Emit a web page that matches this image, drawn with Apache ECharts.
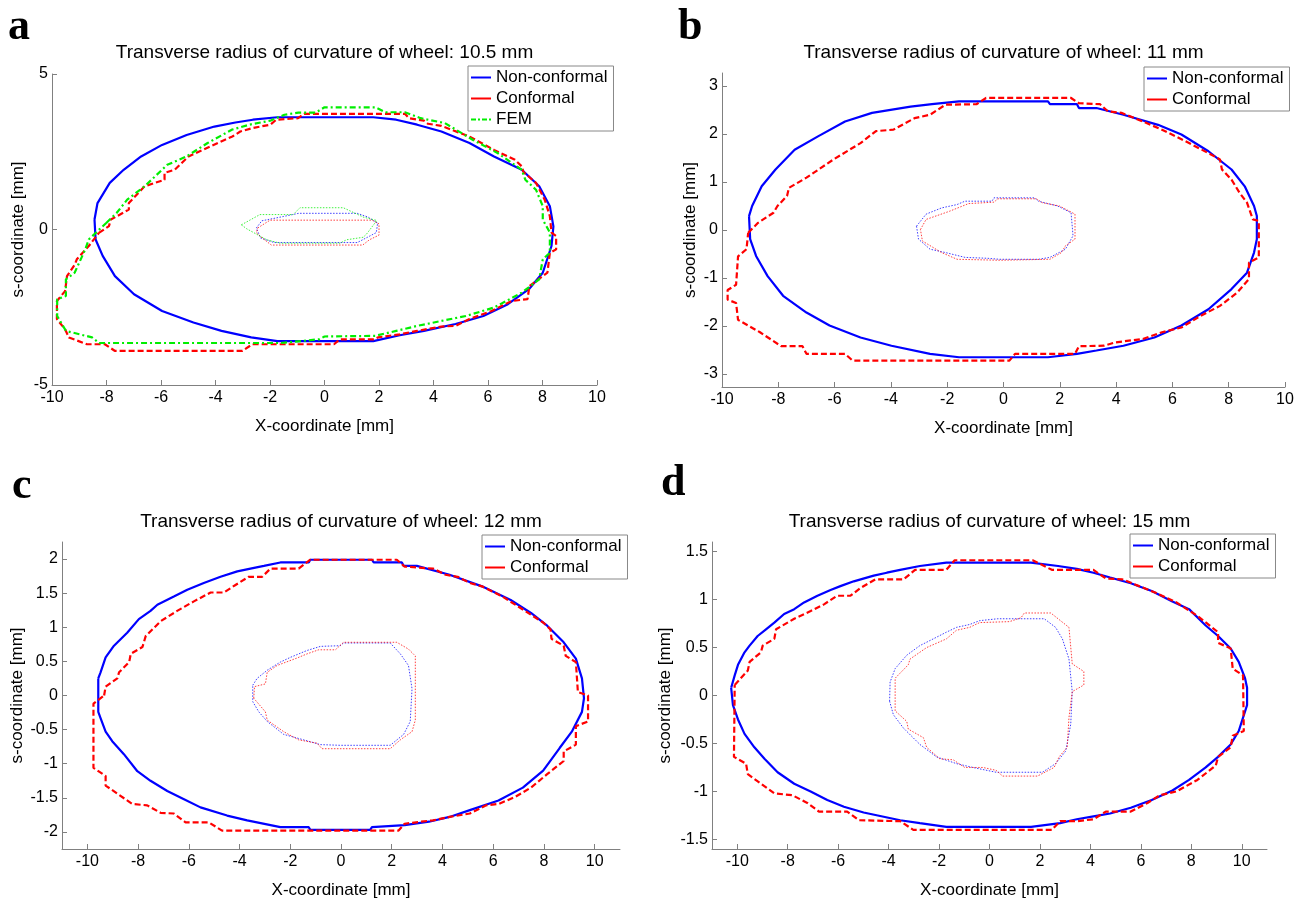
<!DOCTYPE html>
<html>
<head>
<meta charset="utf-8">
<script src="https://cdn.jsdelivr.net/npm/echarts@6/dist/echarts.min.js"></script>
<style>
html,body{margin:0;padding:0;background:#fff;}
#chart{width:1299px;height:900px;}
</style>
</head>
<body>
<div id="chart"></div>
<script>
// ---------- tick labels ----------
var xTicks = [-10,-8,-6,-4,-2,0,2,4,6,8,10];
var yTicksA = [-5,0,5];
var yTicksB = [-3,-2,-1,0,1,2,3];
var yTicksC = [-2,-1.5,-1,-0.5,0,0.5,1,1.5,2];
var yTicksD = [-1.5,-1,-0.5,0,0.5,1,1.5];

// ---------- titles ----------
var titles = [
  'Transverse radius of curvature of wheel: 10.5 mm',
  'Transverse radius of curvature of wheel: 11 mm',
  'Transverse radius of curvature of wheel: 12 mm',
  'Transverse radius of curvature of wheel: 15 mm'
];
var panelLetters = ['a','b','c','d'];

// ---------- panel a (10.5 mm) ----------
var aNonConf = [[-8.44,0.32],[-8.33,0.85],[-7.88,1.5],[-7.37,1.92],[-6.73,2.35],[-5.96,2.72],[-5.06,3.04],[-4.04,3.31],[-3.27,3.44],[-2.63,3.53],[-1.73,3.61],[1.79,3.61],[2.63,3.53],[3.4,3.37],[4.29,3.15],[5.32,2.78],[6.22,2.35],[7.24,1.92],[7.88,1.39],[8.27,0.75],[8.4,0.1],[8.33,-0.53],[8.01,-1.39],[7.5,-1.92],[6.73,-2.4],[5.83,-2.78],[4.81,-3.04],[3.65,-3.26],[2.76,-3.4],[1.79,-3.59],[-1.73,-3.59],[-2.69,-3.47],[-3.78,-3.26],[-4.81,-2.99],[-5.96,-2.62],[-6.99,-2.08],[-7.69,-1.5],[-8.14,-0.85],[-8.4,-0.32]];
var aConf = [[-8.28,-0.11],[-7.91,0.11],[-7.84,0.32],[-7.18,0.64],[-7.18,0.85],[-6.6,1.39],[-5.87,1.6],[-5.87,1.82],[-5.5,1.92],[-4.99,2.35],[-3.67,2.88],[-3.38,2.99],[-3.09,3.15],[-2.65,3.26],[-1.99,3.37],[-1.77,3.53],[-0.97,3.58],[-0.75,3.72],[2.95,3.72],[3.1,3.58],[3.65,3.5],[3.8,3.4],[4.29,3.33],[5.32,2.99],[6.22,2.56],[6.99,2.24],[7.24,2.03],[7.3,1.85],[7.76,1.5],[8.08,0.96],[8.27,0.43],[8.33,-0.1],[8.5,-0.21],[8.5,-0.64],[8.27,-0.75],[8.18,-1.39],[7.52,-1.82],[7.45,-2.24],[6.86,-2.3],[6.13,-2.62],[5.32,-2.88],[4.81,-3.1],[4.29,-3.12],[3.4,-3.26],[2.76,-3.37],[1.96,-3.47],[1.81,-3.53],[0.57,-3.53],[0.35,-3.69],[-2.65,-3.69],[-3.01,-3.9],[-7.7,-3.9],[-8.06,-3.69],[-8.72,-3.69],[-9.38,-3.47],[-9.52,-3.21],[-9.82,-2.88],[-9.82,-2.3],[-9.52,-1.98],[-9.45,-1.5],[-9.16,-1.12],[-9.09,-0.96],[-8.65,-0.53]];
var aFEM = [[-8.01,0.21],[-7.63,0.53],[-7.24,0.96],[-6.6,1.39],[-5.77,2.08],[-5.06,2.35],[-4.29,2.78],[-3.4,3.21],[-2.76,3.37],[-1.99,3.5],[-1.47,3.69],[-0.96,3.76],[-0.32,3.76],[0,3.93],[1.86,3.93],[2.24,3.77],[2.95,3.77],[3.53,3.58],[4.42,3.42],[5.45,2.88],[6.35,2.46],[7.24,1.92],[7.37,1.6],[7.76,1.28],[8.01,0.75],[8.01,0.32],[8.27,-0.1],[8.27,-0.75],[8.01,-0.96],[7.88,-1.6],[7.24,-2.03],[6.22,-2.51],[5.19,-2.78],[4.29,-2.94],[3.4,-3.1],[2.63,-3.26],[1.86,-3.42],[0,-3.44],[-0.19,-3.53],[-1.6,-3.65],[-8.27,-3.65],[-8.53,-3.47],[-9.49,-3.26],[-9.81,-2.78],[-9.81,-2.24],[-9.49,-2.14],[-9.49,-1.6],[-9.17,-1.39],[-8.78,-0.64],[-8.65,-0.32]];
var aNonConfStick = [[-2.5,0.05],[-2.3,0.28],[-1.5,0.42],[-0.95,0.52],[1.2,0.52],[1.6,0.4],[1.95,0.2],[1.9,-0.1],[1.4,-0.33],[1.2,-0.42],[-1.85,-0.42],[-2.35,-0.27]];
var aConfStick = [[-2.45,0.05],[-2.0,0.3],[1.75,0.3],[2.0,0.18],[2.0,-0.18],[1.65,-0.33],[1.4,-0.5],[-1.95,-0.5],[-2.25,-0.3],[-2.5,-0.1]];
var aFEMStick = [[-3.05,0.15],[-2.37,0.48],[-1.15,0.48],[-0.9,0.7],[0.69,0.7],[1.42,0.4],[1.92,0.29],[1.55,-0.14],[1.42,-0.25],[0.81,-0.33],[0.57,-0.44],[-1.63,-0.44],[-2.12,-0.33],[-2.85,0.02]];

// ---------- panel b (11 mm) ----------
var bNonConf = [[-9.04,0.29],[-8.93,0.5],[-8.59,0.91],[-8.1,1.26],[-7.42,1.67],[-6.59,1.95],[-5.63,2.26],[-4.67,2.44],[-3.3,2.57],[-2.54,2.62],[-1.58,2.68],[1.58,2.68],[1.65,2.62],[2.61,2.62],[2.68,2.54],[3.3,2.54],[4.26,2.4],[5.49,2.19],[6.32,1.99],[7.28,1.64],[8.1,1.26],[8.57,0.91],[8.9,0.5],[9.0,0.29],[9.0,-0.19],[8.9,-0.47],[8.65,-0.89],[8.1,-1.23],[7.28,-1.65],[6.32,-1.99],[5.36,-2.24],[4.26,-2.41],[3.3,-2.51],[2.61,-2.58],[1.58,-2.65],[-1.58,-2.65],[-2.61,-2.58],[-3.98,-2.41],[-5.08,-2.24],[-6.18,-1.99],[-7.0,-1.72],[-7.83,-1.37],[-8.38,-0.96],[-8.79,-0.54],[-9.0,-0.19]];
var bConf = [[-9.07,-0.06],[-8.72,0.15],[-8.17,0.36],[-8.03,0.5],[-7.69,0.71],[-7.62,0.88],[-7.0,1.09],[-6.04,1.47],[-5.08,1.81],[-4.53,2.06],[-3.91,2.09],[-3.16,2.33],[-2.61,2.4],[-2.06,2.61],[-0.96,2.62],[-0.62,2.75],[2.4,2.75],[2.68,2.64],[3.43,2.62],[3.71,2.47],[4.19,2.44],[4.95,2.26],[5.63,2.09],[6.46,1.85],[7.28,1.6],[7.69,1.47],[7.76,1.26],[8.1,1.05],[8.38,0.78],[8.65,0.57],[8.86,0.22],[9.07,0.19],[9.07,-0.57],[8.72,-0.68],[8.72,-1.02],[8.31,-1.3],[7.69,-1.58],[7.0,-1.79],[6.32,-2.03],[5.63,-2.13],[4.95,-2.27],[3.98,-2.34],[3.57,-2.41],[2.68,-2.42],[2.54,-2.58],[0.41,-2.58],[0.21,-2.72],[-5.36,-2.72],[-5.63,-2.58],[-7.0,-2.58],[-7.14,-2.42],[-7.9,-2.42],[-8.65,-2.13],[-9.43,-1.87],[-9.5,-1.52],[-9.8,-1.45],[-9.8,-1.25],[-9.5,-1.14],[-9.43,-0.55],[-9.13,-0.4]];
var bNonConfStick = [[-3.09,0.08],[-2.75,0.33],[-2.2,0.46],[-1.65,0.53],[-1.37,0.6],[-0.41,0.6],[-0.34,0.67],[1.1,0.67],[1.24,0.6],[1.92,0.5],[2.4,0.36],[2.47,-0.12],[2.2,-0.4],[1.65,-0.57],[1.24,-0.61],[-0.14,-0.61],[-0.55,-0.59],[-1.37,-0.57],[-2.06,-0.47],[-2.61,-0.4],[-3.02,-0.19]];
var bConfStick = [[-2.95,0.01],[-2.75,0.22],[-1.92,0.39],[-1.24,0.55],[-0.34,0.58],[-0.2,0.65],[1.17,0.65],[1.37,0.57],[1.99,0.5],[2.54,0.33],[2.54,-0.19],[2.2,-0.33],[2.06,-0.47],[1.65,-0.61],[-0.14,-0.63],[-1.65,-0.61],[-2.2,-0.47],[-2.88,-0.23]];

// ---------- panel c (12 mm) ----------
var cNonConf = [[-9.57,0.25],[-9.48,0.34],[-9.28,0.56],[-8.95,0.73],[-8.43,0.92],[-7.97,1.12],[-7.51,1.24],[-7.24,1.33],[-6.59,1.45],[-6.06,1.55],[-5.41,1.65],[-4.75,1.74],[-4.09,1.82],[-3.57,1.86],[-3.04,1.9],[-2.39,1.95],[-1.27,1.95],[-1.21,1.99],[1.22,1.99],[1.29,1.95],[2.4,1.95],[2.47,1.9],[2.99,1.9],[4.28,1.77],[5.56,1.6],[6.69,1.4],[7.49,1.21],[8.14,1.02],[8.78,0.78],[9.26,0.54],[9.5,0.25],[9.58,-0.04],[9.5,-0.24],[9.1,-0.53],[8.62,-0.77],[7.97,-1.1],[7.17,-1.35],[6.21,-1.54],[5.08,-1.68],[4.28,-1.78],[3.47,-1.85],[2.51,-1.9],[1.22,-1.93],[1.15,-1.97],[-1.21,-1.97],[-1.27,-1.93],[-2.39,-1.93],[-3.7,-1.83],[-4.49,-1.76],[-5.54,-1.64],[-6.19,-1.52],[-6.85,-1.4],[-7.51,-1.25],[-8.03,-1.11],[-8.56,-0.86],[-9.02,-0.67],[-9.28,-0.53],[-9.48,-0.33],[-9.57,-0.24]];
var cConf = [[-9.34,0.0],[-9.28,0.13],[-8.82,0.25],[-8.75,0.34],[-8.35,0.49],[-8.29,0.61],[-7.83,0.71],[-7.7,0.87],[-7.11,1.09],[-6.46,1.24],[-5.8,1.38],[-5.14,1.51],[-4.62,1.51],[-4.16,1.62],[-3.64,1.74],[-3.11,1.74],[-2.78,1.86],[-1.67,1.86],[-1.21,1.99],[2.2,1.99],[2.51,1.89],[3.63,1.86],[4.12,1.77],[4.6,1.74],[5.08,1.65],[5.56,1.6],[6.37,1.45],[7.17,1.26],[7.97,1.07],[8.26,0.97],[8.3,0.83],[8.78,0.73],[8.86,0.58],[9.26,0.49],[9.34,0.05],[9.74,0.0],[9.74,-0.38],[9.26,-0.45],[9.26,-0.72],[8.78,-0.82],[8.78,-0.96],[8.14,-1.15],[7.49,-1.35],[6.85,-1.49],[6.21,-1.59],[5.72,-1.61],[5.08,-1.73],[4.28,-1.78],[3.63,-1.83],[3.15,-1.85],[2.51,-1.88],[2.27,-1.98],[-4.69,-1.98],[-5.21,-1.86],[-6.13,-1.86],[-6.59,-1.73],[-7.11,-1.72],[-7.64,-1.61],[-8.23,-1.59],[-9.28,-1.32],[-9.28,-1.18],[-9.76,-1.06],[-9.76,-0.12]];
var cNonConfStick = [[-3.48,0.15],[-3.31,0.25],[-2.91,0.37],[-2.39,0.49],[-1.99,0.56],[-1.34,0.66],[-0.81,0.72],[-0.03,0.73],[0.1,0.77],[1.94,0.77],[2.34,0.61],[2.66,0.44],[2.8,0.1],[2.73,-0.38],[2.47,-0.57],[1.94,-0.73],[-0.03,-0.73],[-0.81,-0.72],[-1.47,-0.65],[-2.26,-0.57],[-2.91,-0.38],[-3.24,-0.24],[-3.48,-0.09]];
var cConfStick = [[-3.44,-0.04],[-3.41,0.13],[-2.98,0.17],[-2.91,0.34],[-2.52,0.44],[-1.73,0.55],[-1.34,0.61],[-0.88,0.67],[-0.22,0.67],[0.1,0.78],[2.2,0.78],[2.66,0.68],[2.93,0.58],[2.93,-0.36],[2.8,-0.53],[2.34,-0.65],[1.94,-0.78],[-0.75,-0.78],[-0.94,-0.7],[-1.67,-0.65],[-2.26,-0.53],[-2.91,-0.36],[-2.98,-0.24]];

// ---------- panel d (15 mm) ----------
var dNonConf = [[-10.24,0.08],[-10.1,0.21],[-9.97,0.32],[-9.71,0.45],[-9.51,0.52],[-9.19,0.62],[-8.86,0.69],[-8.53,0.76],[-8.14,0.85],[-7.74,0.9],[-7.35,0.97],[-6.82,1.04],[-6.3,1.1],[-5.91,1.14],[-5.38,1.19],[-4.59,1.25],[-4.07,1.28],[-3.54,1.31],[-2.76,1.35],[-1.71,1.385],[1.64,1.385],[2.72,1.35],[3.46,1.32],[4.12,1.28],[4.78,1.23],[5.6,1.17],[6.43,1.09],[7.25,0.98],[7.91,0.9],[8.57,0.73],[9.06,0.62],[9.56,0.49],[9.88,0.35],[10.13,0.18],[10.21,0.08],[10.21,-0.1],[10.05,-0.23],[9.88,-0.37],[9.56,-0.51],[9.06,-0.64],[8.57,-0.75],[7.91,-0.88],[7.25,-0.99],[6.43,-1.09],[5.6,-1.17],[4.78,-1.23],[4.12,-1.26],[3.46,-1.29],[2.8,-1.33],[1.65,-1.37],[-1.71,-1.37],[-2.76,-1.33],[-3.54,-1.3],[-4.99,-1.22],[-5.77,-1.16],[-6.43,-1.09],[-7.09,-1.0],[-7.74,-0.92],[-8.4,-0.8],[-8.92,-0.66],[-9.32,-0.54],[-9.71,-0.4],[-9.97,-0.25],[-10.17,-0.1]];
var dConf = [[-10.1,0.11],[-9.58,0.26],[-9.51,0.35],[-9.06,0.45],[-8.99,0.52],[-8.53,0.59],[-8.46,0.69],[-7.74,0.8],[-7.09,0.88],[-6.56,0.95],[-6.04,1.04],[-5.51,1.04],[-5.12,1.12],[-4.53,1.21],[-3.41,1.21],[-2.95,1.31],[-1.71,1.31],[-1.38,1.41],[1.71,1.41],[2.47,1.31],[4.12,1.31],[4.61,1.22],[5.27,1.21],[5.93,1.14],[6.59,1.07],[7.41,0.97],[8.24,0.83],[9.06,0.66],[9.06,0.55],[9.56,0.49],[9.64,0.28],[10.05,0.21],[10.08,-0.37],[9.64,-0.42],[9.56,-0.54],[9.06,-0.64],[8.97,-0.73],[8.24,-0.88],[7.41,-1.0],[6.75,-1.04],[6.26,-1.12],[5.6,-1.21],[4.61,-1.21],[4.12,-1.29],[3.46,-1.31],[2.8,-1.31],[2.47,-1.4],[-3.02,-1.4],[-3.54,-1.31],[-5.18,-1.3],[-5.64,-1.21],[-6.76,-1.21],[-7.22,-1.12],[-7.81,-1.04],[-8.53,-1.02],[-9.58,-0.82],[-9.65,-0.71],[-10.13,-0.64]];
var dNonConfStick = [[-3.96,-0.06],[-3.94,0.14],[-3.74,0.28],[-3.28,0.42],[-2.76,0.52],[-2.23,0.59],[-1.71,0.66],[-1.31,0.71],[-0.79,0.74],[-0.39,0.78],[0.33,0.8],[2.17,0.8],[2.62,0.71],[2.89,0.59],[3.15,0.38],[3.28,0.04],[3.22,-0.3],[3.02,-0.58],[2.62,-0.71],[2.1,-0.8],[0.26,-0.8],[-0.66,-0.75],[-1.31,-0.71],[-2.1,-0.64],[-2.76,-0.51],[-3.41,-0.34],[-3.81,-0.2]];
var dConfStick = [[-3.74,-0.16],[-3.74,0.18],[-3.22,0.32],[-3.15,0.38],[-2.49,0.5],[-1.71,0.59],[-1.31,0.68],[-0.79,0.71],[-0.39,0.76],[0.79,0.77],[1.25,0.81],[1.38,0.86],[2.43,0.86],[3.15,0.71],[3.28,0.33],[3.74,0.25],[3.74,0.11],[3.28,0.04],[3.15,-0.23],[3.08,-0.54],[2.76,-0.64],[2.56,-0.75],[1.9,-0.84],[0.52,-0.84],[0.26,-0.78],[-0.26,-0.75],[-0.98,-0.75],[-1.44,-0.67],[-1.97,-0.66],[-2.49,-0.54],[-2.62,-0.44],[-3.22,-0.35],[-3.28,-0.27]];

// ---------- build chart ----------
var FONT = 'Liberation Sans, Arial, sans-serif';
var AXIS_COLOR = '#808080';
var BLUE = '#0000ff', RED = '#ff0000', GREEN = '#00ee00';

function closed(arr){ return arr.concat([arr[0]]); }

var panels = [
  {grid:{left:52, top:74, width:545, height:311}, x:[-10,10], y:[-5,5], yTicks:yTicksA, yNameGap:25, titleY:53,
   legend:{left:468, top:66}, legendNames:['Non-conformal','Conformal','FEM'],
   outer:[['Non-conformal',aNonConf,BLUE],['Conformal',aConf,RED],['FEM',aFEM,GREEN]],
   inner:[[aNonConfStick,BLUE],[aConfStick,RED],[aFEMStick,GREEN]]},
  {grid:{left:722, top:73, width:563, height:314}, x:[-10,10], y:[-3.27,3.27], yTicks:yTicksB, yNameGap:23, titleY:53,
   legend:{left:1144, top:67}, legendNames:['Non-conformal','Conformal'],
   outer:[['Non-conformal',bNonConf,BLUE],['Conformal',bConf,RED]],
   inner:[[bNonConfStick,BLUE],[bConfStick,RED]]},
  {grid:{left:62, top:542, width:558, height:311}, x:[-11,11], y:[-2.25,2.25], yTicks:yTicksC, yNameGap:36, titleY:522,
   legend:{left:482, top:535}, legendNames:['Non-conformal','Conformal'],
   outer:[['Non-conformal',cNonConf,BLUE],['Conformal',cConf,RED]],
   inner:[[cNonConfStick,BLUE],[cConfStick,RED]]},
  {grid:{left:712, top:542, width:555, height:311}, x:[-11,11], y:[-1.6,1.6], yTicks:yTicksD, yNameGap:38, titleY:522,
   legend:{left:1130, top:534}, legendNames:['Non-conformal','Conformal'],
   outer:[['Non-conformal',dNonConf,BLUE],['Conformal',dConf,RED]],
   inner:[[dNonConfStick,BLUE],[dConfStick,RED]]}
];

var grids=[], xAxes=[], yAxes=[], series=[], legends=[], graphics=[];
var lineTypes = {'Non-conformal':'solid', 'Conformal':[6,3], 'FEM':[6,3,2,3]};
var legendIcons = {
  'Non-conformal':'rect',
  'Conformal':'rect',
  'FEM':'path://M0,0h5v2h-5z M7,0h2v2h-2z M11,0h5v2h-5z M18,0h2v2h-2z'
};

panels.forEach(function(p, i){
  grids.push(p.grid);
  xAxes.push({
    type:'value', gridIndex:i, min:p.x[0], max:p.x[1],
    name:'X-coordinate [mm]', nameLocation:'middle', nameGap:33,
    nameTextStyle:{fontSize:17, color:'#000', fontFamily:FONT},
    axisLine:{show:true, onZero:false, lineStyle:{color:AXIS_COLOR, width:1}},
    axisTick:{show:true, inside:true, length:5, customValues:xTicks, lineStyle:{color:AXIS_COLOR}},
    axisLabel:{customValues:xTicks, fontSize:16, color:'#000', fontFamily:FONT, margin:5},
    splitLine:{show:false}
  });
  yAxes.push({
    type:'value', gridIndex:i, min:p.y[0], max:p.y[1],
    name:'s-coordinate [mm]', nameLocation:'middle', nameGap:p.yNameGap,
    nameTextStyle:{fontSize:17, color:'#000', fontFamily:FONT},
    axisLine:{show:true, onZero:false, lineStyle:{color:AXIS_COLOR, width:1}},
    axisTick:{show:true, inside:true, length:5, customValues:p.yTicks, lineStyle:{color:AXIS_COLOR}},
    axisLabel:{customValues:p.yTicks, fontSize:16, color:'#000', fontFamily:FONT, margin:4},
    splitLine:{show:false}
  });
  p.inner.forEach(function(s){
    series.push({
      type:'line', name:'stick region', xAxisIndex:i, yAxisIndex:i,
      data:closed(s[0]), symbol:'none', showSymbol:false, silent:true,
      lineStyle:{color:s[1], width:1, type:[1.5,1.5], opacity:0.75}, z:2
    });
  });
  p.outer.forEach(function(s){
    series.push({
      type:'line', name:s[0], xAxisIndex:i, yAxisIndex:i,
      data:closed(s[1]), symbol:'none', showSymbol:false, silent:true,
      color:s[2],
      lineStyle:{color:s[2], width:2.2, type:lineTypes[s[0]]}, z:3
    });
  });
  legends.push({
    left:p.legend.left, top:p.legend.top, orient:'vertical', selectedMode:false,
    backgroundColor:'#fff', borderColor:'#888', borderWidth:1, borderRadius:0,
    padding:[3,6,3,3], itemGap:4, itemWidth:20, itemHeight:2,
    textStyle:{fontSize:17, color:'#000', fontFamily:FONT, lineHeight:17},
    data:p.legendNames.map(function(n){ return {name:n, icon:legendIcons[n]}; })
  });
  var cx = p.grid.left + p.grid.width/2;
  graphics.push({
    type:'text', x:cx, y:p.titleY,
    style:{text:titles[i], fontSize:19, fill:'#000', fontFamily:FONT, align:'center', verticalAlign:'middle'}
  });
});

var letterPos = [[8,6],[678,6],[12,465],[661,462]];
letterPos.forEach(function(pos, i){
  graphics.push({
    type:'text', x:pos[0], y:pos[1],
    style:{text:panelLetters[i], fontSize:44, fontWeight:'bold', fill:'#000', fontFamily:'Liberation Serif, Times New Roman, serif'}
  });
});

var chart = echarts.init(document.getElementById('chart'), null, {renderer:'canvas'});
chart.setOption({
  animation:false,
  backgroundColor:'#fff',
  grid:grids, xAxis:xAxes, yAxis:yAxes, series:series, legend:legends,
  graphic:{elements:graphics}
});
</script>
</body>
</html>
